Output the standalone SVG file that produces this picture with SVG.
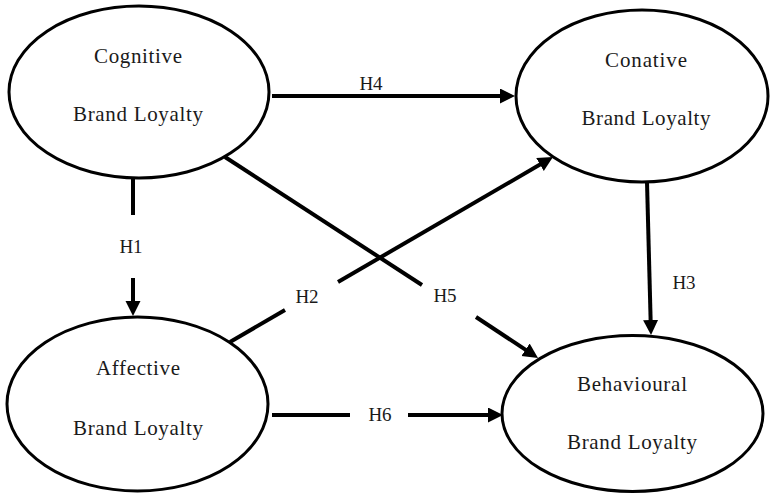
<svg xmlns="http://www.w3.org/2000/svg" width="771" height="494" viewBox="0 0 771 494">
<style>
.node ellipse{fill:#fff;stroke:#000;stroke-width:3}
.t{font-family:"Liberation Serif","Times New Roman",serif;font-size:21px;fill:#1a1a1a;text-anchor:middle}
.e{stroke:#000;stroke-width:4;fill:none}
.lbl{font-family:"Liberation Serif","Times New Roman",serif;font-size:19px;fill:#1a1a1a;text-anchor:middle}
</style>
<defs>
<marker id="ah" markerUnits="userSpaceOnUse" markerWidth="16" markerHeight="16" refX="3" refY="7.5" orient="auto">
<path d="M0,0 L15,7.5 L0,15 z" fill="#000"/>
</marker>
</defs>
<rect width="771" height="494" fill="#fff"/>
<g id="connectors">
<line class="e" x1="272" y1="96" x2="503" y2="96" marker-end="url(#ah)"/>
<text class="lbl" x="371" y="90">H4</text>
<line class="e" x1="133" y1="178" x2="133" y2="215"/>
<line class="e" x1="133" y1="278" x2="133" y2="304" marker-end="url(#ah)"/>
<text class="lbl" x="131" y="253">H1</text>
<line class="e" x1="230" y1="342" x2="285" y2="310"/>
<line class="e" x1="338" y1="282" x2="542.6" y2="163.1" marker-end="url(#ah)"/>
<text class="lbl" x="307" y="303">H2</text>
<line class="e" x1="225" y1="157" x2="422" y2="285"/>
<line class="e" x1="476" y1="317" x2="528" y2="351.4" marker-end="url(#ah)"/>
<text class="lbl" x="445" y="302">H5</text>
<line class="e" x1="647" y1="182" x2="650.7" y2="323" marker-end="url(#ah)"/>
<text class="lbl" x="684" y="289">H3</text>
<line class="e" x1="272" y1="415" x2="350" y2="415"/>
<line class="e" x1="408" y1="415" x2="491" y2="415" marker-end="url(#ah)"/>
<text class="lbl" x="380" y="421">H6</text>
</g>
<g id="cognitive" class="node">
<ellipse cx="139" cy="92" rx="130" ry="86"/>
<text class="t" x="138" y="63" textLength="88" lengthAdjust="spacing">Cognitive</text>
<text class="t" x="138" y="121" textLength="130" lengthAdjust="spacing">Brand Loyalty</text>
</g>
<g id="conative" class="node">
<ellipse cx="642" cy="96" rx="126" ry="86"/>
<text class="t" x="646" y="67" textLength="82" lengthAdjust="spacing">Conative</text>
<text class="t" x="646" y="125" textLength="129" lengthAdjust="spacing">Brand Loyalty</text>
</g>
<g id="affective" class="node">
<ellipse cx="137.5" cy="404" rx="130.5" ry="87"/>
<text class="t" x="138" y="375" textLength="84" lengthAdjust="spacing">Affective</text>
<text class="t" x="138" y="435" textLength="130" lengthAdjust="spacing">Brand Loyalty</text>
</g>
<g id="behavioural" class="node">
<ellipse cx="632.5" cy="413.5" rx="130.5" ry="78"/>
<text class="t" x="632" y="391" textLength="110" lengthAdjust="spacing">Behavioural</text>
<text class="t" x="632" y="449" textLength="130" lengthAdjust="spacing">Brand Loyalty</text>
</g>
</svg>
